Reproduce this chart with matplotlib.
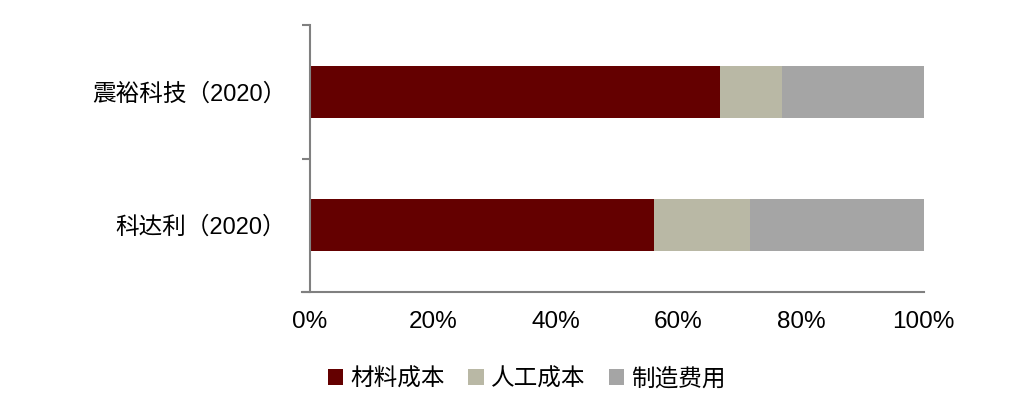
import matplotlib
matplotlib.use('Agg')
import matplotlib.pyplot as plt
from matplotlib.patches import Patch
import numpy as np

plt.rcParams['font.family'] = ['Liberation Sans', 'Noto Sans CJK SC', 'DejaVu Sans']

# data (shares in %), top row first
companies = ['震裕科技（2020）', '科达利（2020）']
series_names = ['材料成本', '人工成本', '制造费用']
material = [66.8, 56.0]
labor = [10.1, 15.7]
overhead = [23.1, 28.3]
colors = ['#640000', '#B9B8A5', '#A5A5A5']

fig = plt.figure(figsize=(10.23, 4.08), dpi=100)
ax = fig.add_axes([0.303, 0.2843, 0.600, 0.654])

y = np.arange(len(companies))[::-1]
left = np.zeros(len(companies))
for vals, c in zip([material, labor, overhead], colors):
    ax.barh(y, vals, left=left, height=0.39, color=c, edgecolor='none')
    left += np.array(vals)

ax.set_xlim(0, 100)
ax.set_ylim(-0.5, 1.5)
ax.set_xticks(np.arange(0, 101, 20))
ax.set_xticklabels([f'{v}%' for v in range(0, 101, 20)], fontsize=17.5)
ax.tick_params(axis='x', length=0, pad=14)

ax.set_yticks(y)
ax.set_yticklabels(companies, fontsize=17)
ax.tick_params(axis='y', length=0, pad=17)
# category boundary ticks
ax.set_yticks([-0.5, 0.5, 1.5], minor=True)
ax.tick_params(axis='y', which='minor', length=6, color='#808080', width=1.5, direction='out')

for s in ['top', 'right']:
    ax.spines[s].set_visible(False)
for s in ['left', 'bottom']:
    ax.spines[s].set_color('#808080')
    ax.spines[s].set_linewidth(1.5)
ax.spines['bottom'].set_bounds(-1.3, 100)

handles = [Patch(facecolor=c, edgecolor='none') for c in colors]
fig.legend(handles, series_names, loc='center', bbox_to_anchor=(0.515, 0.07), ncol=3,
           frameon=False, fontsize=17, handlelength=0.65, handleheight=0.65,
           handletextpad=0.3, columnspacing=1.0)

fig.savefig('out.png', dpi=100)
